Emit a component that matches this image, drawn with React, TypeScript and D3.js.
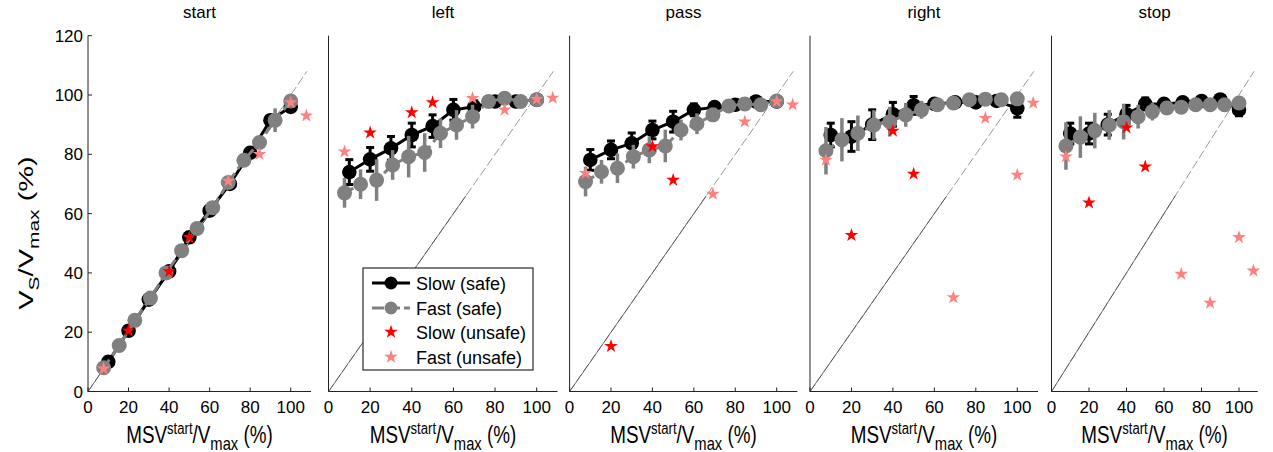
import React from 'react';
import * as d3 from 'd3';

// ---------- data ----------
const panelTitles = ['start', 'left', 'pass', 'right', 'stop'];
const slowX = [10, 20, 30, 40, 50, 60, 70, 80, 90, 100];
const fastX = [7.7, 15.4, 23.1, 30.8, 38.5, 46.2, 53.8, 61.5, 69.2, 76.9, 84.6, 92.3, 100];
const unsafeSlowX = [20, 40, 50];
const unsafeFastX = [7.7, 69.2, 84.6, 100, 107.7];
const xTicks = [0, 20, 40, 60, 80, 100];
const yTicks = [0, 20, 40, 60, 80, 100, 120];

const slowSafe = [
  [10, 20.5, 31, 40.5, 52, 61, 70, 80.5, 91.5, 96],
  [74, 78.3, 82, 86.5, 89.5, 95, 96, 97.8, 97.8, 98.4],
  [78.1, 81.5, 83.7, 88.2, 91, 95, 95.9, 96.7, 97.8, 97.8],
  [86.5, 86, 90, 93.5, 96.5, 97, 97.5, 97.5, 98, 95.5],
  [87, 87, 90, 93.5, 97, 97, 97.5, 98, 98.5, 95],
];
const slowSafeErr = [
  [1.5, 1.5, 1.5, 1.5, 1.5, 1.5, 1.5, 1.5, 1.5, 1.5],
  [4.2, 4, 4, 4, 3.8, 3.5, 2, 1, 1, 1],
  [3.5, 3, 3.5, 3, 3.5, 2, 1, 1, 1, 1],
  [4, 5, 5, 4, 3, 1, 1, 1, 1, 3],
  [3.5, 3.5, 3.5, 3, 2, 1, 1, 1, 1, 2],
];
const fastSafe = [
  [8, 15.5, 24, 31.5, 40, 47.5, 55, 62, 70.5, 78, 84, 91.5, 98],
  [67, 69.9, 71.3, 76.4, 79.2, 80.6, 87.1, 89.9, 92.7, 97.8, 98.9, 97.8, 98.4],
  [70.8, 74.1, 75.3, 79.2, 81.5, 82.8, 88.2, 90.3, 93.3, 96.3, 97, 96.7, 98],
  [81.2, 84.9, 87.1, 89.9, 91, 93.3, 95, 96.7, 97.3, 98.4, 98.6, 98.4, 98.7],
  [82.8, 85.8, 88, 89.9, 91, 92.7, 94.4, 95.6, 95.9, 96.7, 96.7, 96.7, 97.3],
];
const fastSafeErr = [
  [1, 1, 1, 1, 1, 1, 1, 1, 1, 1, 1, 4, 1.5],
  [5, 5, 7, 5, 7, 6.5, 5, 5, 4, 1, 1, 1, 1],
  [5, 4, 5, 4, 4.5, 5.5, 3.5, 3.5, 2, 1, 1, 1, 1],
  [8, 7.3, 6, 5, 5, 4, 3, 2, 1, 1, 1, 1, 1],
  [8, 7, 6, 5, 6, 4, 3, 2, 1, 1, 1, 1, 1],
];
const slowUnsafe = [
  [20.5, 40.5, 52],
  [87.3, 94.1, 97.5],
  [15.3, 82.6, 71.3],
  [52.7, 87.9, 73.4],
  [63.7, 89, 75.8],
];
const fastUnsafe = [
  [7.7, 71, 80, 97.5, 93],
  [80.9, 98.9, 95, 98.6, 99],
  [73.6, 66.6, 91, 97.8, 96.7],
  [78.1, 31.7, 92.2, 73, 97.3],
  [79.2, 39.6, 29.9, 52, 40.7],
];
const legendLabels = ['Slow (safe)', 'Fast (safe)', 'Slow (unsafe)', 'Fast (unsafe)'];

// ---------- layout ----------
const W = 1273;
const H = 452;
const panelRanges: [number, number][] = [
  [88, 311],
  [328.5, 557.5],
  [569.6, 797.4],
  [810, 1038],
  [1051.5, 1257.75],
];
const yTop = 35.7;
const yBottom = 391.5;
const FONT = '"Liberation Sans", Arial, sans-serif';

const SLOW_C = '#000000';
const FAST_C = '#808080';
const RED = '#ff0000';
const PINK = '#ff8080';

const starPath = d3.symbol().type(d3.symbolStar).size(58)() as string;

const yScale = d3.scaleLinear().domain([0, 120]).range([yBottom, yTop]);

function Panel({ idx }: { idx: number }) {
  const [x0, x1] = panelRanges[idx];
  const x = d3.scaleLinear().domain([0, 110]).range([x0, x1]);
  const y = yScale;
  const line = d3
    .line<[number, number]>()
    .x((d) => x(d[0]))
    .y((d) => y(d[1]));
  const slowPts: [number, number][] = slowX.map((v, i) => [v, slowSafe[idx][i]]);
  const fastPts: [number, number][] = fastX.map((v, i) => [v, fastSafe[idx][i]]);
  const cx = (x0 + x1) / 2;
  return (
    <g>
      {/* title */}
      <text x={cx} y={18} textAnchor="middle" fontSize={17} fontFamily={FONT}>
        {panelTitles[idx]}
      </text>
      {/* diagonal */}
      <line x1={x(0)} y1={y(0)} x2={x(108)} y2={y(108)} stroke="#999" strokeWidth={1} strokeDasharray="9,3" />
      <line x1={x(0)} y1={y(0)} x2={x(66)} y2={y(66)} stroke="#333" strokeWidth={0.7} />
      {/* slow safe */}
      <path d={line(slowPts) as string} fill="none" stroke={SLOW_C} strokeWidth={3} />
      {slowPts.map((p, i) => {
        const e = slowSafeErr[idx][i];
        return (
          <g key={'se' + i} stroke={SLOW_C} strokeWidth={3}>
            <line x1={x(p[0])} x2={x(p[0])} y1={y(p[1] - e)} y2={y(p[1] + e)} />
            <line x1={x(p[0]) - 4} x2={x(p[0]) + 4} y1={y(p[1] - e)} y2={y(p[1] - e)} />
            <line x1={x(p[0]) - 4} x2={x(p[0]) + 4} y1={y(p[1] + e)} y2={y(p[1] + e)} />
          </g>
        );
      })}
      {slowPts.map((p, i) => (
        <circle key={'sc' + i} cx={x(p[0])} cy={y(p[1])} r={7.3} fill={SLOW_C} />
      ))}
      {/* fast safe */}
      <path d={line(fastPts) as string} fill="none" stroke={FAST_C} strokeWidth={3} strokeDasharray="10,5" />
      {fastPts.map((p, i) => {
        const e = fastSafeErr[idx][i];
        return (
          <line
            key={'fe' + i}
            x1={x(p[0])}
            x2={x(p[0])}
            y1={y(p[1] - e)}
            y2={y(p[1] + e)}
            stroke={FAST_C}
            strokeWidth={3.5}
          />
        );
      })}
      {fastPts.map((p, i) => (
        <circle key={'fc' + i} cx={x(p[0])} cy={y(p[1])} r={7.5} fill={FAST_C} />
      ))}
      {/* unsafe */}
      {unsafeSlowX.map((v, i) => (
        <path key={'us' + i} d={starPath} transform={`translate(${x(v)},${y(slowUnsafe[idx][i])})`} fill={RED} />
      ))}
      {unsafeFastX.map((v, i) => (
        <path key={'uf' + i} d={starPath} transform={`translate(${x(v)},${y(fastUnsafe[idx][i])})`} fill={PINK} />
      ))}
      {/* axes */}
      <line x1={x0} x2={x0} y1={yTop} y2={yBottom} stroke="#222" strokeWidth={1} />
      <line x1={x0} x2={x1} y1={yBottom} y2={yBottom} stroke="#222" strokeWidth={1} />
      {xTicks.map((t) => (
        <g key={'xt' + t}>
          <line x1={x(t)} x2={x(t)} y1={yBottom} y2={yBottom - 4} stroke="#222" />
          <text x={x(t)} y={412.5} textAnchor="middle" fontSize={17} fontFamily={FONT}>
            {t}
          </text>
        </g>
      ))}
      {idx === 0 &&
        yTicks.map((t) => (
          <g key={'yt' + t}>
            <line x1={x0} x2={x0 + 4} y1={y(t)} y2={y(t)} stroke="#222" />
            <text x={x0 - 5} y={y(t) + 6} textAnchor="end" fontSize={17} fontFamily={FONT}>
              {t}
            </text>
          </g>
        ))}
      {/* x label */}
      <text
        transform={`translate(${cx},443) scale(0.82,1)`}
        textAnchor="middle"
        fontSize={23}
        fontFamily={FONT}
      >
        MSV
        <tspan dy={-9} fontSize={16}>start</tspan>
        <tspan dy={9}>/V</tspan>
        <tspan dy={7} fontSize={18}>max</tspan>
        <tspan dy={-7}> (%)</tspan>
      </text>
    </g>
  );
}

function Legend() {
  const bx = 363;
  const by = 268;
  const bw = 170;
  const bh = 102;
  const rows = [283, 308, 332, 357];
  const sx0 = 372;
  const sx1 = 410;
  const mx = 391;
  const tx = 416;
  return (
    <g>
      <rect x={bx} y={by} width={bw} height={bh} fill="#fff" stroke="#000" strokeWidth={1} />
      <line x1={sx0} x2={sx1} y1={rows[0]} y2={rows[0]} stroke={SLOW_C} strokeWidth={3} />
      <circle cx={mx} cy={rows[0]} r={6.5} fill={SLOW_C} />
      <line x1={sx0} x2={sx1} y1={rows[1]} y2={rows[1]} stroke={FAST_C} strokeWidth={3} strokeDasharray="12,4" />
      <circle cx={mx} cy={rows[1]} r={6.5} fill={FAST_C} />
      <path d={starPath} transform={`translate(${mx},${rows[2]})`} fill={RED} />
      <path d={starPath} transform={`translate(${mx},${rows[3]})`} fill={PINK} />
      {legendLabels.map((l, i) => (
        <text key={l} x={tx} y={rows[i] + 6.5} fontSize={18} fontFamily={FONT}>
          {l}
        </text>
      ))}
    </g>
  );
}

export default function App() {
  return (
    <svg
      width={W}
      height={H}
      style={{ position: 'absolute', left: 0, top: 0, background: '#fff' }}
      xmlns="http://www.w3.org/2000/svg"
    >
      <rect x={0} y={0} width={W} height={H} fill="#fff" />
      {panelTitles.map((_, i) => (
        <Panel key={i} idx={i} />
      ))}
      <Legend />
      <text
        transform={`translate(33,233) rotate(-90) scale(1,0.72)`}
        textAnchor="middle"
        fontSize={29}
        fontFamily={FONT}
      >
        V<tspan dy={9} fontSize={21}>S</tspan>
        <tspan dy={-9}>/V</tspan>
        <tspan dy={9} fontSize={21}>max</tspan>
        <tspan dy={-9}> (%)</tspan>
      </text>
    </svg>
  );
}
